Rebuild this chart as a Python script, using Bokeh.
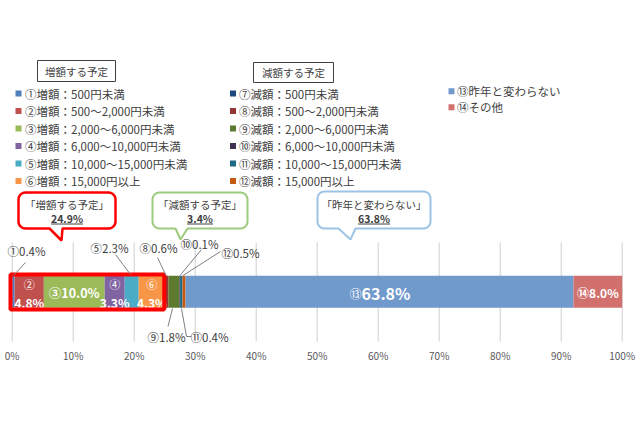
from bokeh.plotting import figure
from bokeh.models import Range1d
from bokeh.embed import file_html
from bokeh.resources import INLINE
from bokeh.core.properties import value
import numpy as np

# ---------------- data ----------------
marks = ["①", "②", "③", "④", "⑤", "⑥", "⑦", "⑧", "⑨", "⑩", "⑪", "⑫", "⑬", "⑭"]
shares = [0.4, 4.8, 10.0, 3.3, 2.3, 4.3, 0.0, 0.6, 1.8, 0.1, 0.4, 0.5, 63.8, 8.0]
colors = ["#4F81BD", "#C0504D", "#9BBB59", "#8064A2", "#4BACC6", "#F79646",
          "#1F497D", "#943634", "#5E7A2E", "#3F3151", "#1F6A86", "#C55A11",
          "#7099CC", "#D2706E"]
legend_inc = ["①増額：500円未満", "②増額：500～2,000円未満", "③増額：2,000～6,000円未満",
              "④増額：6,000～10,000円未満", "⑤増額：10,000～15,000円未満", "⑥増額：15,000円以上"]
legend_dec = ["⑦減額：500円未満", "⑧減額：500～2,000円未満", "⑨減額：2,000～6,000円未満",
              "⑩減額：6,000～10,000円未満", "⑪減額：10,000～15,000円未満", "⑫減額：15,000円以上"]
legend_other = ["⑬昨年と変わらない", "⑭その他"]
header_inc = "増額する予定"
header_dec = "減額する予定"
group_names = ["「増額する予定」", "「減額する予定」", "「昨年と変わらない」"]
group_totals = ["24.9%", "3.4%", "63.8%"]
tick_values = [0, 10, 20, 30, 40, 50, 60, 70, 80, 90, 100]
tick_labels = ["0%", "10%", "20%", "30%", "40%", "50%", "60%", "70%", "80%", "90%", "100%"]

# ---------------- layout helpers ----------------
W, H = 640, 426
PX0, PPU = 11.7, 6.1          # page x of 0 %, page px per %
def X(px):
    return (px - PX0) / PPU

FONT = value("Noto Sans CJK JP")
TXT = "#404040"

p = figure(width=W, height=H, output_backend="svg", toolbar_location=None,
           x_range=Range1d(X(0), X(W)), y_range=Range1d(H, 0),
           min_border=0, background_fill_color="white", border_fill_color="white")
p.xaxis.visible = False
p.yaxis.visible = False
p.grid.visible = False
p.outline_line_color = None

# gridlines + tick labels
p.segment(x0=tick_values, y0=242, x1=tick_values, y1=341, line_color="#D0D0D0", line_width=1)
p.text(x=tick_values, y=[355] * len(tick_values), text=tick_labels, text_font=FONT,
       text_font_size="10px", text_color="#595959", text_align="center", text_baseline="middle")

# stacked 100% bar
vals = np.array(shares)
norm = vals / vals.sum() * 100
rights = np.cumsum(norm)
lefts = rights - norm
BAR_Y, BAR_H = 291.3, 32
p.hbar(y=BAR_Y, height=BAR_H, left=lefts, right=rights, fill_color=colors, line_color=None)

mid = (lefts + rights) / 2
# two-line labels inside
for i in (1, 3, 5):
    p.text(x=[mid[i]], y=[283], text=[marks[i]], text_font=FONT, text_font_size="11px",
           text_color="white", text_align="center", text_baseline="middle")
    p.text(x=[mid[i]], y=[302], text=[f"{shares[i]:.1f}%"], text_font=FONT, text_font_size="12px",
           text_font_style="bold", text_color="white", text_align="center", text_baseline="middle")
# single-line labels
p.text(x=[mid[2]], y=[292], text=[f"{marks[2]}{shares[2]:.1f}%"], text_font=FONT,
       text_font_size="12.5px", text_font_style="bold", text_color="white",
       text_align="center", text_baseline="middle")
p.text(x=[mid[13]], y=[292], text=[f"{marks[13]}{shares[13]:.1f}%"], text_font=FONT,
       text_font_size="12px", text_font_style="bold", text_color="white",
       text_align="center", text_baseline="middle")
p.text(x=[mid[12]], y=[293], text=[marks[12]], x_offset=-18, text_font=FONT,
       text_font_size="12px", text_color="white", text_align="right", text_baseline="middle")
p.text(x=[mid[12]], y=[292], text=[f"{shares[12]:.1f}%"], x_offset=-18, text_font=FONT,
       text_font_size="16px", text_font_style="bold", text_color="white",
       text_align="left", text_baseline="middle")

# red frame around the increase group
inc_end = rights[5]
p.quad(left=[X(10)], right=[inc_end - 0.1], top=[274], bottom=[309],
       fill_color=None, line_color="#FF0000", line_width=4)

# outside labels with leader lines: (index, text_x, text_y, line points)
outside = [
    (0, 7, 250, [(25, 262), (13, 275)]),
    (4, 90, 247, [(115, 254), (130, 274)]),
    (7, 139, 247, [(157, 257), (165.5, 275)]),
    (9, 180, 243, [(201, 249), (179.5, 275)]),
    (11, 221, 252, [(220, 251), (182.5, 275)]),
    (8, 147, 336, [(172, 308), (167.5, 326)]),
    (10, 190, 336, [(181, 308), (186, 336), (191, 336)]),
]
for i, tx, ty, pts in outside:
    p.text(x=[X(tx)], y=[ty], text=[f"{marks[i]}{shares[i]:.1f}%"], text_font=FONT,
           text_font_size="11.5px", text_color=TXT, text_align="left", text_baseline="middle")
    p.line(x=[X(a) for a, b in pts], y=[b for a, b in pts], line_color="#808080", line_width=1)

# speech bubbles
def bubble(x0, y0, x1, y1, tl, tip, tr, r=7):
    xs, ys = [], []
    def arc(cx, cy, a0, a1):
        t = np.radians(np.linspace(a0, a1, 8))
        xs.extend(cx + r * np.cos(t)); ys.extend(cy + r * np.sin(t))
    arc(x1 - r, y0 + r, -90, 0)
    arc(x1 - r, y1 - r, 0, 90)
    xs.extend([tr, tip[0], tl]); ys.extend([y1, tip[1], y1])
    arc(x0 + r, y1 - r, 90, 180)
    arc(x0 + r, y0 + r, 180, 270)
    return [X(v) for v in xs], ys

bubbles = [
    ((18, 192, 115, 228, 49, (61, 240), 62), "#FF0000", 2.5, 66.5),
    ((152, 192, 247, 228, 175, (180, 239), 187), "#9CCB7C", 2, 199.5),
    ((317, 191, 430, 228, 338, (350, 239), 355), "#9DC3E6", 2, 373.5),
]
for k, (geom, col, lw, cx) in enumerate(bubbles):
    bx, by = bubble(*geom)
    p.patch(x=bx, y=by, fill_color="white", line_color=col, line_width=lw)
    p.text(x=[X(cx)], y=[204], text=[group_names[k]], text_font=FONT, text_font_size="10.5px",
           text_color=TXT, text_align="center", text_baseline="middle")
    p.text(x=[X(cx)], y=[218], text=[group_totals[k]], text_font=FONT, text_font_size="10.5px",
           text_font_style="bold", text_color=TXT, text_align="center", text_baseline="middle")
    hw = 4.0 * len(group_totals[k]) * 0.75 + 1
    p.segment(x0=[X(cx - hw)], y0=[223.5], x1=[X(cx + hw)], y1=[223.5], line_color=TXT, line_width=1)

# legend headers
for (bx0, by0, bx1, by1), txt in (((37, 60, 115, 81), header_inc), ((253, 62, 333, 82), header_dec)):
    p.quad(left=[X(bx0)], right=[X(bx1)], top=[by0], bottom=[by1], fill_color="white",
           line_color="#404040", line_width=1)
    p.text(x=[X((bx0 + bx1) / 2)], y=[(by0 + by1) / 2], text=[txt], text_font=FONT,
           text_font_size="10.5px", text_color=TXT, text_align="center", text_baseline="middle")

# legend entries
rows = [93 + 17.5 * j for j in range(6)]
for names, cols, sq_x, tx_x, ys in (
        (legend_inc, colors[0:6], 18, 24.5, rows),
        (legend_dec, colors[6:12], 232.5, 238.5, rows),
        (legend_other, colors[12:14], 451, 456.5, [90.7, 106.7])):
    p.scatter(x=[X(sq_x)] * len(names), y=ys, marker="square", size=6, fill_color=cols, line_color=None)
    p.text(x=[X(tx_x)] * len(names), y=ys, text=names, text_font=FONT, text_font_size="11.5px",
           text_color=TXT, text_align="left", text_baseline="middle")

open("out.html", "w").write(file_html(p, INLINE))
